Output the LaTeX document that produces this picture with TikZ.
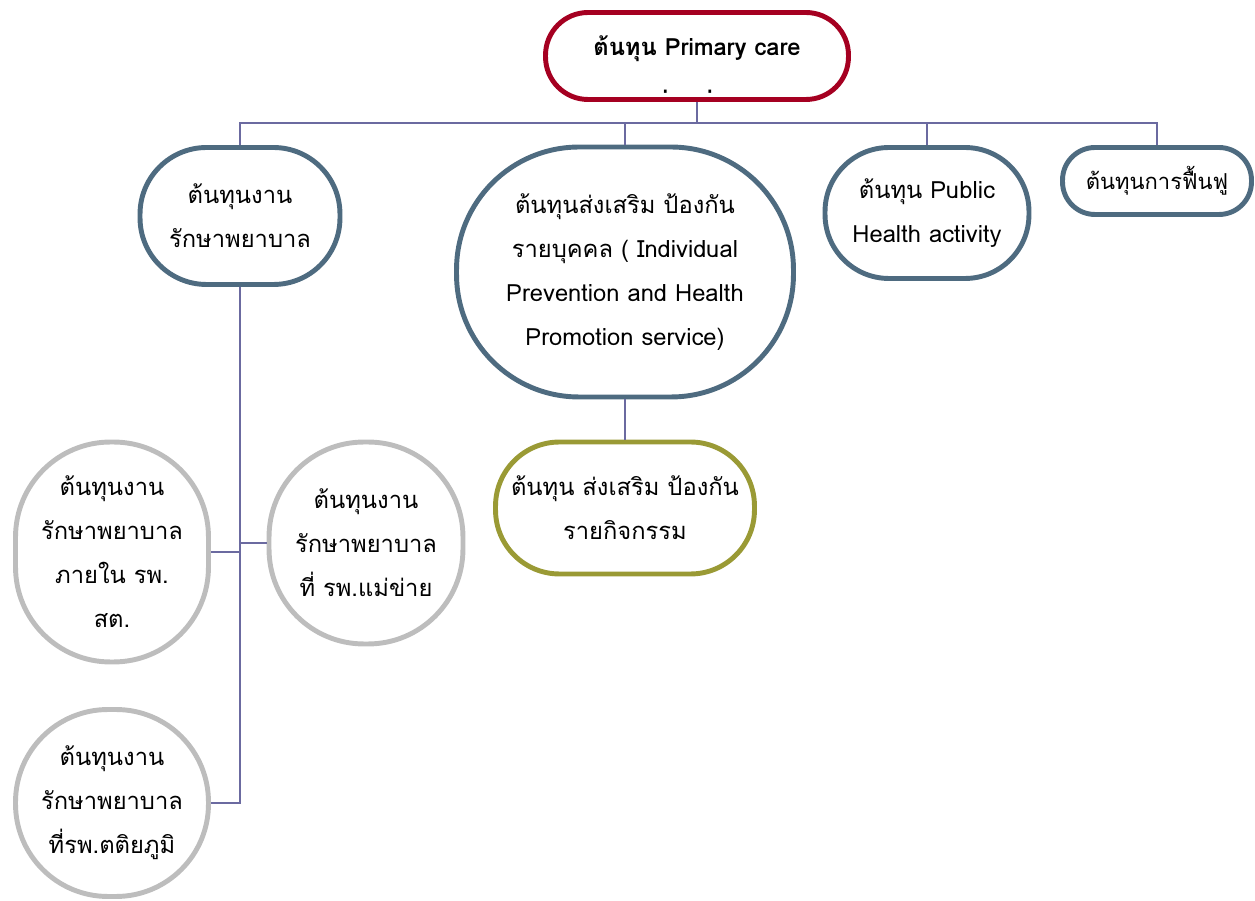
\documentclass[tikz,border=0pt]{standalone}
\usepackage{fontspec}
\setmainfont[Script=Thai]{Loma}
\definecolor{capred}{HTML}{A50021}
\definecolor{slate}{HTML}{4E6B80}
\definecolor{olive}{HTML}{9A9A35}
\definecolor{softgray}{HTML}{BDBDBD}
\definecolor{linkline}{HTML}{6B6AA0}
\begin{document}
\begin{tikzpicture}[x=0.02cm,y=-0.02cm,
  pill/.style={draw,line width=2.8pt,fill=white,align=center,inner sep=0pt,
    font=\fontsize{13.5}{25}\selectfont},
  label/.style={align=center,inner sep=0pt,font=\fontsize{13.5}{25}\selectfont},
  link/.style={draw=linkline,line width=1.1pt}]

\useasboundingbox (0,0) rectangle (1255,901);

%top
\node[pill,draw=capred,minimum width=6.06cm,minimum height=1.74cm,rounded corners=0.85cm] (top) at (697,56) {};
\node[label,font=\fontsize{13.5}{25}\selectfont\bfseries] (toptxt) at (697,49) {ต้นทุน Primary care};
\begin{scope}
\clip (600,70) rectangle (800,93);
\node[label,font=\fontsize{13.5}{25}\selectfont\bfseries] (toplow) at (697,99) {ต่อหน่วย};
\end{scope}

%level 1
\node[pill,draw=slate,minimum width=4.0cm,minimum height=2.74cm,rounded corners=1.33cm] (care) at (240,216) {ต้นทุนงาน\\รักษาพยาบาล};
\node[pill,draw=slate,minimum width=6.74cm,minimum height=5.0cm,rounded corners=2.45cm] (promo) at (625,272) {ต้นทุนส่งเสริม ป้องกัน\\รายบุคคล ( Individual\\Prevention and Health\\Promotion service)};
\node[pill,draw=slate,minimum width=4.08cm,minimum height=2.62cm,rounded corners=1.28cm] (pub) at (927,213) {ต้นทุน Public\\Health activity};
\node[pill,draw=slate,minimum width=3.78cm,minimum height=1.34cm,rounded corners=0.65cm,font=\fontsize{12.5}{25}\selectfont] (rehab) at (1157,181) {ต้นทุนการฟื้นฟู};

%level 2
\node[pill,draw=olive,minimum width=5.18cm,minimum height=2.64cm,rounded corners=1.28cm] (act) at (625,508) {ต้นทุน ส่งเสริม ป้องกัน\\รายกิจกรรม};
\node[pill,draw=softgray,minimum width=3.86cm,minimum height=4.4cm,rounded corners=1.9cm] (pcu) at (112,552) {ต้นทุนงาน\\รักษาพยาบาล\\ภายใน รพ.\\สต.};
\node[pill,draw=softgray,minimum width=3.88cm,minimum height=4.04cm,rounded corners=1.9cm] (main) at (366,543) {ต้นทุนงาน\\รักษาพยาบาล\\ที่ รพ.แม่ข่าย};
\node[pill,draw=softgray,minimum width=3.86cm,minimum height=3.74cm,rounded corners=1.85cm] (tert) at (112,803) {ต้นทุนงาน\\รักษาพยาบาล\\ที่รพ.ตติยภูมิ};

%connectors
\coordinate (bus) at (697,123);
\draw[link] (top.south) -- (bus);
\draw[link] (care.north) |- (bus) -| (rehab.north);
\draw[link] (promo.north) -- (promo.north |- bus);
\draw[link] (pub.north) -- (pub.north |- bus);
\draw[link] (promo.south) -- (act.north);
\draw[link] (care.south) |- (tert.east);
\draw[link] (pcu.east) -- (pcu.east -| care.south);
\draw[link] (main.west) -- (main.west -| care.south);
\end{tikzpicture}
\end{document}
